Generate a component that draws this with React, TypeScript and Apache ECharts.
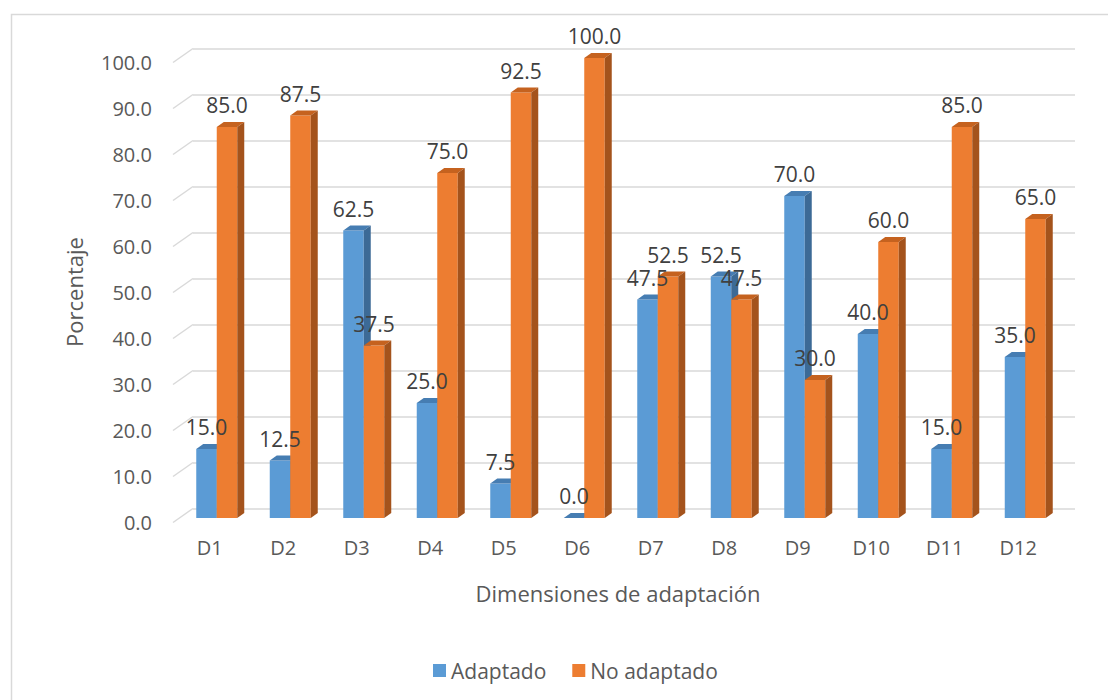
import React, { useEffect, useRef } from "react";
import * as echarts from "echarts";

const categories = ["D1", "D2", "D3", "D4", "D5", "D6", "D7", "D8", "D9", "D10", "D11", "D12"];
const adaptado = [15, 12.5, 62.5, 25, 7.5, 0, 47.5, 52.5, 70, 40, 15, 35];
const noAdaptado = [85, 87.5, 37.5, 75, 92.5, 100, 52.5, 47.5, 30, 60, 85, 65];
const yTicks = [0, 10, 20, 30, 40, 50, 60, 70, 80, 90, 100];
const seriesNames = ["Adaptado", "No adaptado"];

const FONT = '"Open Sans", "Noto Sans", sans-serif';
const BAR_W = 20.5;
const DEPTH_X = 7;
const DEPTH_Y = 5;
const SHIFT_X = -13;
const SHIFT_Y = 9.5;

function makeBarRender(front: string, topC: string, side: string, offset: number) {
  return (params: any, api: any) => {
    const i = api.value(0);
    const v = api.value(1);
    const pTop = api.coord([i, v]);
    const pBase = api.coord([i, 0]);
    const x = pTop[0] + SHIFT_X + offset;
    const yt = pTop[1] + SHIFT_Y;
    const yb = pBase[1] + SHIFT_Y;
    const w = BAR_W;
    return {
      type: "group",
      children: [
        {
          type: "rect",
          shape: { x, y: yt, width: w, height: Math.max(0, yb - yt) },
          style: { fill: front },
        },
        {
          type: "polygon",
          shape: {
            points: [
              [x, yt],
              [x + DEPTH_X, yt - DEPTH_Y],
              [x + w + DEPTH_X, yt - DEPTH_Y],
              [x + w, yt],
            ],
          },
          style: { fill: topC },
        },
        {
          type: "polygon",
          shape: {
            points: [
              [x + w, yt],
              [x + w + DEPTH_X, yt - DEPTH_Y],
              [x + w + DEPTH_X, yb - DEPTH_Y],
              [x + w, yb],
            ],
          },
          style: { fill: side },
        },
        {
          type: "text",
          x: x + w / 2,
          y: yt - 22,
          z2: 100,
          style: {
            text: Number(v).toFixed(1),
            fill: "#404040",
            fontSize: 21,
            fontFamily: FONT,
            align: "center",
            verticalAlign: "middle",
          },
        },
      ],
    };
  };
}

export default function App() {
  const ref = useRef<HTMLDivElement>(null);
  useEffect(() => {
    if (!ref.current) return;
    const chart = echarts.init(ref.current, undefined, { renderer: "svg" });
    const option: any = {
      animation: false,
      backgroundColor: "#ffffff",
      textStyle: { fontFamily: FONT },
      grid: [
        { left: 193, top: 48.5, width: 882, height: 460 },
        { left: 173, top: 62.5, width: 882, height: 460 },
      ],
      xAxis: [
        {
          type: "category",
          gridIndex: 0,
          data: categories,
          axisLine: { show: false },
          axisTick: { show: false },
          axisLabel: { show: false },
        },
        {
          type: "category",
          gridIndex: 1,
          data: categories,
          axisLine: { show: false },
          axisTick: { show: false },
          axisLabel: { color: "#595959", fontSize: 20, fontFamily: FONT, margin: 15 },
        },
      ],
      yAxis: [
        {
          type: "value",
          gridIndex: 0,
          min: 0,
          max: 100,
          interval: 10,
          axisLine: { show: false },
          axisTick: { show: false },
          axisLabel: { show: false },
          splitLine: { lineStyle: { color: "#d9d9d9", width: 1.5 } },
        },
        {
          type: "value",
          gridIndex: 1,
          min: 0,
          max: 100,
          interval: 10,
          axisLine: { show: false },
          axisTick: { show: false },
          splitLine: { show: false },
          axisLabel: {
            color: "#595959",
            fontSize: 20,
            fontFamily: FONT,
            margin: 21,
            formatter: (v: number) => v.toFixed(1),
          },
        },
      ],
      legend: {
        left: 428,
        top: 655,
        icon: "rect",
        itemWidth: 13,
        itemHeight: 13,
        itemGap: 26,
        data: seriesNames,
        textStyle: { color: "#595959", fontSize: 21, fontFamily: FONT },
      },
      graphic: [
        {
          type: "rect",
          left: 9,
          top: 12,
          shape: { width: 1120, height: 720 },
          style: { fill: "none", stroke: "#d9d9d9", lineWidth: 1.5 },
          silent: true,
        },
        {
          type: "text",
          x: 74,
          y: 292,
          rotation: Math.PI / 2,
          style: {
            text: "Porcentaje",
            fill: "#595959",
            fontSize: 22,
            fontFamily: FONT,
            align: "center",
            verticalAlign: "middle",
          },
        },
        {
          type: "text",
          x: 618,
          y: 593,
          style: {
            text: "Dimensiones de adaptación",
            fill: "#595959",
            fontSize: 22,
            fontFamily: FONT,
            align: "center",
            verticalAlign: "middle",
          },
        },
      ],
      series: [
        {
          type: "custom",
          name: "floor",
          xAxisIndex: 1,
          yAxisIndex: 1,
          silent: true,
          data: yTicks.map((t) => [0, t]),
          encode: { x: 0, y: 1 },
          renderItem: (params: any, api: any) => {
            const p = api.coord([0, api.value(1)]);
            const x0 = params.coordSys.x;
            return {
              type: "line",
              shape: { x1: x0, y1: p[1], x2: x0 + 20, y2: p[1] - 14 },
              style: { stroke: "#d9d9d9", lineWidth: 1.5 },
            };
          },
        },
        {
          type: "custom",
          name: seriesNames[0],
          xAxisIndex: 0,
          yAxisIndex: 0,
          itemStyle: { color: "#5b9bd5" },
          data: adaptado.map((v, i) => [i, v]),
          encode: { x: 0, y: 1 },
          renderItem: makeBarRender("#5b9bd5", "#467db2", "#3c6a96", -BAR_W),
        },
        {
          type: "custom",
          name: seriesNames[1],
          xAxisIndex: 0,
          yAxisIndex: 0,
          itemStyle: { color: "#ed7d31" },
          data: noAdaptado.map((v, i) => [i, v]),
          encode: { x: 0, y: 1 },
          renderItem: makeBarRender("#ed7d31", "#c5621f", "#a4531c", 0),
        },
      ],
    };
    chart.setOption(option);
    return () => chart.dispose();
  }, []);
  return (
    <div
      ref={ref}
      style={{ position: "fixed", left: 0, top: 0, width: 1108, height: 700 }}
    />
  );
}
